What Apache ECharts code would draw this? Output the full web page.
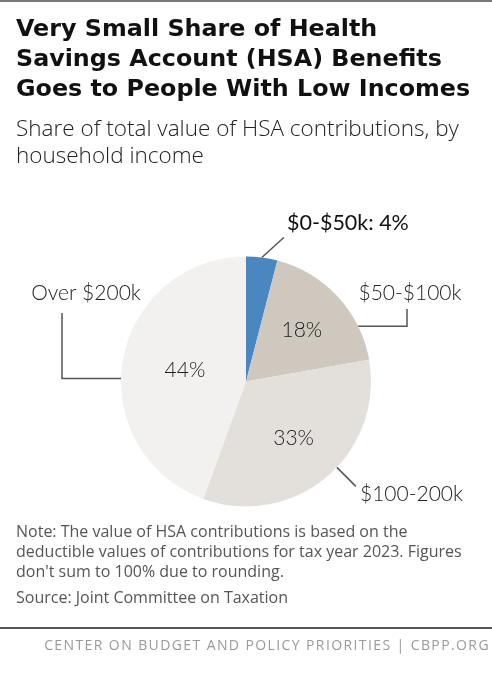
<!DOCTYPE html>
<html>
<head>
<meta charset="utf-8">
<script src="https://cdn.jsdelivr.net/npm/echarts@6/dist/echarts.min.js"></script>
<style>
  html, body { margin: 0; padding: 0; background: #fff; }
  #wrap { position: relative; width: 492px; height: 680px; }
  #chart { width: 492px; height: 680px; }
  #footer {
    position: absolute; right: 2px; top: 636px;
    font-family: 'Open Sans', sans-serif; font-size: 14px; line-height: 18px;
    letter-spacing: 1.4px; color: #999; white-space: nowrap;
  }
</style>
</head>
<body>
<div id="wrap">
  <div id="chart"></div>
  <div id="footer">CENTER ON BUDGET AND POLICY PRIORITIES | CBPP.ORG</div>
</div>
<script>
// 資料
const categories = ['$0-$50k', '$50-$100k', '$100-200k', 'Over $200k']
const shares = [4, 18, 33, 44]
const outerLabels = ['$0-$50k: 4%', '$50-$100k', '$100-200k', 'Over $200k']
const innerLabels = ['', '18%', '33%', '44%']
const sliceColors = ['#4a86bf', '#cec8be', '#e3e0dc', '#f2f1ef']

const titleFont = 'DejaVu Sans'
const lightFont = 'Open Sans'
const labelFont = 'Lato'

// 圓餅位置
const cx = 246
const cy = 381.5
const R = 125

// 依資料計算每塊的中間角度 (由正上方順時針)
const total = shares.reduce((a, b) => a + b, 0)
const midAngles = []
let acc = 0
shares.forEach(v => {
  midAngles.push((acc + v / 2) / total * 360)
  acc += v
})

const onArc = (deg, r) => {
  const rad = deg * Math.PI / 180
  return [cx + r * Math.sin(rad), cy - r * Math.cos(rad)]
}

// 外部標籤的引線
const leader = (i) => {
  switch (i) {
    case 0: {
      const p = onArc(midAngles[0], R)
      return { points: [p, [p[0] + 22, p[1] - 20], [p[0] + 22, p[1] - 20]], x: 287, y: 223, align: 'left' }
    }
    case 1: {
      const p = onArc(63.8, R)
      return { points: [p, [407, p[1]], [407, 309]], x: 410, y: 293, align: 'center' }
    }
    case 2: {
      const p = onArc(133.4, R)
      return { points: [p, [p[0] + 19, p[1] + 19], [p[0] + 19, p[1] + 19]], x: 360, y: 494, align: 'left' }
    }
    default: {
      const p = onArc(271.4, R)
      return { points: [p, [62, p[1]], [62, 313]], x: 86, y: 293, align: 'center' }
    }
  }
}

const innerRadius = [0, 76, 74, 62]

const chart = echarts.init(document.getElementById('chart'))

const option = {
  backgroundColor: '#fff',
  animation: false,
  title: [
    {
      text: 'Very Small Share of Health\nSavings Account (HSA) Benefits\nGoes to People With Low Incomes',
      left: 16,
      top: 15,
      padding: 0,
      textStyle: { fontFamily: titleFont, fontSize: 23.8, fontWeight: 700, lineHeight: 30, color: '#111' }
    },
    {
      text: 'Share of total value of HSA contributions, by\nhousehold income',
      left: 16,
      top: 116,
      padding: 0,
      textStyle: { fontFamily: lightFont, fontSize: 22.5, fontWeight: 300, lineHeight: 27, color: '#222' }
    },
    {
      text: 'Note: The value of HSA contributions is based on the\ndeductible values of contributions for tax year 2023. Figures\ndon\'t sum to 100% due to rounding.',
      left: 16,
      top: 522,
      padding: 0,
      textStyle: { fontFamily: lightFont, fontSize: 16, fontWeight: 400, lineHeight: 20, color: '#555' }
    },
    {
      text: 'Source: Joint Committee on Taxation',
      left: 16,
      top: 588,
      padding: 0,
      textStyle: { fontFamily: lightFont, fontSize: 16, fontWeight: 400, lineHeight: 20, color: '#555' }
    }
  ],
  graphic: [
    { type: 'rect', shape: { x: 0, y: 0, width: 492, height: 2 }, style: { fill: '#777' } },
    { type: 'rect', shape: { x: 0, y: 627, width: 492, height: 2 }, style: { fill: '#555' } }
  ],
  series: [
    {
      type: 'pie',
      center: [cx, cy],
      radius: R,
      startAngle: 90,
      clockwise: true,
      silent: true,
      itemStyle: { borderWidth: 0 },
      label: {
        show: true,
        position: 'inside',
        formatter: p => innerLabels[p.dataIndex],
        fontFamily: labelFont,
        fontSize: 21,
        fontWeight: 300,
        color: '#222'
      },
      labelLayout: params => {
        const i = params.dataIndex
        const p = onArc(midAngles[i], innerRadius[i])
        return { x: p[0], y: p[1], align: 'center', verticalAlign: 'middle' }
      },
      data: categories.map((c, i) => ({
        name: c,
        value: shares[i],
        itemStyle: { color: sliceColors[i] }
      }))
    },
    {
      type: 'pie',
      center: [cx, cy],
      radius: R,
      startAngle: 90,
      clockwise: true,
      silent: true,
      itemStyle: { color: 'transparent', borderWidth: 0 },
      label: {
        show: true,
        position: 'outside',
        overflow: 'none',
        formatter: p => outerLabels[p.dataIndex],
        fontFamily: labelFont,
        fontSize: 21,
        fontWeight: 300,
        color: '#222'
      },
      labelLine: {
        show: true,
        length: 10,
        length2: 10,
        lineStyle: { color: '#555', width: 1.5 }
      },
      labelLayout: params => {
        const l = leader(params.dataIndex)
        return { x: l.x, y: l.y, align: l.align, verticalAlign: 'middle', labelLinePoints: l.points }
      },
      data: categories.map((c, i) => ({
        name: c,
        value: shares[i],
        label: i === 0 ? { fontWeight: 400, fontSize: 21.5, color: '#111' } : {}
      }))
    }
  ]
}

chart.setOption(option)
</script>
</body>
</html>
